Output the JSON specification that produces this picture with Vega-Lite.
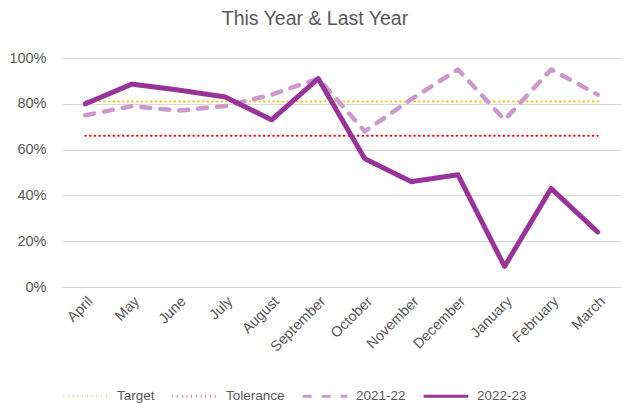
{
  "$schema": "https://vega.github.io/schema/vega-lite/v6.json",
  "width": 623,
  "height": 403,
  "autosize": {"type": "fit", "contains": "padding"},
  "padding": {"left": 8, "right": 2, "top": 8, "bottom": 0},
  "title": {"text": "This Year & Last Year", "font": "Liberation Sans", "fontSize": 19.5, "fontWeight": "normal", "color": "#595959", "offset": 21, "frame": "bounds"},
  "config": {
    "view": {"stroke": null},
    "axis": {"labelFont": "Liberation Sans", "labelFontSize": 14.5, "labelColor": "#595959", "ticks": false, "title": null}
  },
  "data": {"values": [
    {"month": "April", "series": "Target", "value": 0.81},
    {"month": "May", "series": "Target", "value": 0.81},
    {"month": "June", "series": "Target", "value": 0.81},
    {"month": "July", "series": "Target", "value": 0.81},
    {"month": "August", "series": "Target", "value": 0.81},
    {"month": "September", "series": "Target", "value": 0.81},
    {"month": "October", "series": "Target", "value": 0.81},
    {"month": "November", "series": "Target", "value": 0.81},
    {"month": "December", "series": "Target", "value": 0.81},
    {"month": "January", "series": "Target", "value": 0.81},
    {"month": "February", "series": "Target", "value": 0.81},
    {"month": "March", "series": "Target", "value": 0.81},
    {"month": "April", "series": "Tolerance", "value": 0.66},
    {"month": "May", "series": "Tolerance", "value": 0.66},
    {"month": "June", "series": "Tolerance", "value": 0.66},
    {"month": "July", "series": "Tolerance", "value": 0.66},
    {"month": "August", "series": "Tolerance", "value": 0.66},
    {"month": "September", "series": "Tolerance", "value": 0.66},
    {"month": "October", "series": "Tolerance", "value": 0.66},
    {"month": "November", "series": "Tolerance", "value": 0.66},
    {"month": "December", "series": "Tolerance", "value": 0.66},
    {"month": "January", "series": "Tolerance", "value": 0.66},
    {"month": "February", "series": "Tolerance", "value": 0.66},
    {"month": "March", "series": "Tolerance", "value": 0.66},
    {"month": "April", "series": "2021-22", "value": 0.75},
    {"month": "May", "series": "2021-22", "value": 0.79},
    {"month": "June", "series": "2021-22", "value": 0.77},
    {"month": "July", "series": "2021-22", "value": 0.79},
    {"month": "August", "series": "2021-22", "value": 0.84},
    {"month": "September", "series": "2021-22", "value": 0.91},
    {"month": "October", "series": "2021-22", "value": 0.68},
    {"month": "November", "series": "2021-22", "value": 0.82},
    {"month": "December", "series": "2021-22", "value": 0.95},
    {"month": "January", "series": "2021-22", "value": 0.73},
    {"month": "February", "series": "2021-22", "value": 0.95},
    {"month": "March", "series": "2021-22", "value": 0.84},
    {"month": "April", "series": "2022-23", "value": 0.80},
    {"month": "May", "series": "2022-23", "value": 0.886},
    {"month": "June", "series": "2022-23", "value": 0.86},
    {"month": "July", "series": "2022-23", "value": 0.83},
    {"month": "August", "series": "2022-23", "value": 0.73},
    {"month": "September", "series": "2022-23", "value": 0.91},
    {"month": "October", "series": "2022-23", "value": 0.56},
    {"month": "November", "series": "2022-23", "value": 0.46},
    {"month": "December", "series": "2022-23", "value": 0.49},
    {"month": "January", "series": "2022-23", "value": 0.09},
    {"month": "February", "series": "2022-23", "value": 0.43},
    {"month": "March", "series": "2022-23", "value": 0.24}
  ]},
  "encoding": {
    "x": {
      "field": "month", "type": "ordinal",
      "sort": ["April", "May", "June", "July", "August", "September", "October", "November", "December", "January", "February", "March"],
      "scale": {"type": "point", "padding": 0.5},
      "axis": {"labelAngle": -45, "grid": false, "domainColor": "#D9D9D9", "labelPadding": 7}
    },
    "y": {
      "field": "value", "type": "quantitative",
      "scale": {"domain": [0, 1]},
      "axis": {"format": "%", "values": [0, 0.2, 0.4, 0.6, 0.8, 1], "domain": false, "gridColor": "#D9D9D9", "labelPadding": 16}
    },
    "color": {
      "field": "series", "type": "nominal",
      "scale": {"domain": ["Target", "Tolerance", "2021-22", "2022-23"], "range": ["#FFC000", "#FF0000", "#CC99CC", "#993399"]},
      "legend": {
        "orient": "bottom", "direction": "horizontal", "title": null, "symbolType": "stroke", "symbolSize": 2000, "symbolStrokeWidth": 3,
        "labelFont": "Liberation Sans", "labelFontSize": 13.5, "labelColor": "#595959", "columnPadding": 11, "labelOffset": 7, "offset": 18
      }
    },
    "strokeDash": {
      "field": "series", "type": "nominal",
      "scale": {"domain": ["Target", "Tolerance", "2021-22", "2022-23"], "range": [[0.5, 4.2], [0.5, 4.2], [9, 10], [1, 0]]}
    }
  },
  "layer": [
    {
      "transform": [{"filter": {"field": "series", "oneOf": ["Target", "Tolerance"]}}],
      "mark": {"type": "line", "strokeCap": "round", "strokeJoin": "round", "strokeWidth": 2}
    },
    {
      "transform": [{"filter": {"field": "series", "equal": "2021-22"}}],
      "mark": {"type": "line", "strokeCap": "round", "strokeJoin": "round", "strokeWidth": 4.5}
    },
    {
      "transform": [{"filter": {"field": "series", "equal": "2022-23"}}],
      "mark": {"type": "line", "strokeCap": "round", "strokeJoin": "round", "strokeWidth": 5}
    }
  ]
}
